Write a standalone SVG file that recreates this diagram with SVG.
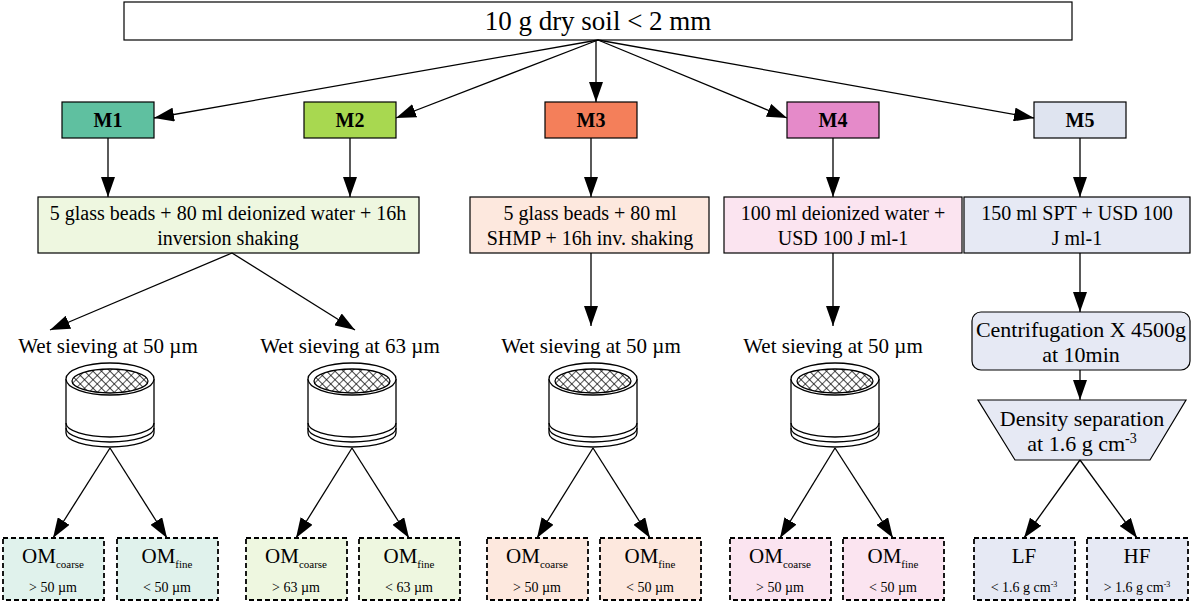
<svg xmlns="http://www.w3.org/2000/svg" width="1200" height="608" viewBox="0 0 1200 608">
<style>
.b{stroke:#000;stroke-width:1.2}
.t{font-family:"Liberation Serif",serif;text-anchor:middle;fill:#000}
.p{font-size:20px}
.L{font-size:21px}
.C{font-size:22px}
.m{font-family:"Liberation Serif",serif;font-size:20px;font-weight:bold;text-anchor:middle}
.d{stroke:#000;stroke-width:1.8;stroke-dasharray:5,3}
.s{font-size:11px}
.sm{font-size:14px}
.sv{fill:#fff;stroke:#000;stroke-width:1.3}
.c{stroke:#000;stroke-width:1.3;fill:none;marker-end:url(#a2)}
</style>
<defs>
<marker id="a2" viewBox="0 0 20 14" refX="20" refY="7" markerWidth="20" markerHeight="14" orient="auto" markerUnits="userSpaceOnUse"><path d="M0,0 L20,7 L0,14 z"/></marker>
<pattern id="mesh" width="6" height="6" patternUnits="userSpaceOnUse" patternTransform="rotate(45)"><rect width="6" height="6" fill="#fff"/><path d="M0,0V6M0,0H6" stroke="#000" stroke-width="1.3"/></pattern>
<g id="sieve">
<path class="sv" d="M-44,0 V54 A44,14 0 0 0 44,54 V0"/>
<path fill="none" stroke="#000" stroke-width="1.3" d="M-44,44 A44,14 0 0 0 44,44 M-44,49 A44,14 0 0 0 44,49"/>
<ellipse class="sv" cx="0" cy="0" rx="44" ry="16"/>
<ellipse cx="0" cy="2" rx="38" ry="12" fill="url(#mesh)" stroke="#000" stroke-width="1.3"/>
</g>
</defs>
<g id="top"><rect x="124" y="2" width="948" height="38" fill="#fff" class="b"/><text class="t" style="font-size:27px" x="598" y="30">10 g dry soil &lt; 2 mm</text></g>
<g id="M1"><rect x="62" y="102" width="92" height="36" fill="#5fc0a0" class="b"/><text class="m" x="108" y="127">M1</text></g>
<g id="M2"><rect x="304" y="102" width="92" height="36" fill="#a8d850" class="b"/><text class="m" x="350" y="127">M2</text></g>
<g id="M3"><rect x="545" y="102" width="92" height="36" fill="#f47f5a" class="b"/><text class="m" x="591" y="127">M3</text></g>
<g id="M4"><rect x="787" y="102" width="92" height="36" fill="#e58ac9" class="b"/><text class="m" x="833" y="127">M4</text></g>
<g id="M5"><rect x="1034" y="102" width="92" height="36" fill="#dfe4f0" class="b"/><text class="m" x="1080" y="127">M5</text></g>
<g id="p1"><rect x="38" y="197" width="381" height="56" fill="#eef7e0" class="b"/><text class="t p" x="228" y="220">5 glass beads + 80 ml deionized water + 16h</text><text class="t p" x="228" y="245">inversion shaking</text></g>
<g id="p3"><rect x="470" y="197" width="239" height="56" fill="#fde8de" class="b"/><text class="t p" x="590" y="220">5 glass beads + 80 ml</text><text class="t p" x="590" y="245">SHMP + 16h inv. shaking</text></g>
<g id="p4"><rect x="724" y="197" width="238" height="56" fill="#fbe4f0" class="b"/><text class="t p" x="843" y="220">100 ml deionized water +</text><text class="t p" x="843" y="245">USD 100 J ml-1</text></g>
<g id="p5"><rect x="964" y="197" width="226" height="56" fill="#e6e9f4" class="b"/><text class="t p" x="1077" y="220">150 ml SPT + USD 100</text><text class="t p" x="1077" y="245">J ml-1</text></g>
<g id="cent"><rect x="972" y="312" width="218" height="58" rx="9" fill="#e6e9f4" class="b"/><text class="t C" x="1081" y="337">Centrifugation X 4500g</text><text class="t C" x="1081" y="362">at 10min</text></g>
<g id="dens"><path d="M978,400 H1186 L1150,460 H1015 Z" fill="#e6e9f4" class="b"/><text class="t C" x="1082" y="426">Density separation</text><text class="t C" x="1082" y="451">at 1.6 g cm<tspan class="sm" dy="-8">-3</tspan></text></g>
<g id="sieves">
<text class="t L" x="108" y="353">Wet sieving at 50 µm</text><text class="t L" x="350" y="353">Wet sieving at 63 µm</text><text class="t L" x="591" y="353">Wet sieving at 50 µm</text><text class="t L" x="833" y="353">Wet sieving at 50 µm</text>
<use href="#sieve" x="110" y="379"/><use href="#sieve" x="352" y="379"/><use href="#sieve" x="593" y="379"/><use href="#sieve" x="835" y="379"/>
</g>
<g id="leaves">
<g fill="#e0f2ec"><rect x="3" y="538" width="101" height="62" class="d"/><rect x="117" y="538" width="101" height="62" class="d"/></g>
<g fill="#eef7e0"><rect x="246" y="538" width="101" height="62" class="d"/><rect x="359" y="538" width="101" height="62" class="d"/></g>
<g fill="#fde8de"><rect x="487" y="538" width="101" height="62" class="d"/><rect x="600" y="538" width="101" height="62" class="d"/></g>
<g fill="#fbe4f0"><rect x="730" y="538" width="101" height="62" class="d"/><rect x="843" y="538" width="101" height="62" class="d"/></g>
<g fill="#e6e9f4"><rect x="974" y="538" width="101" height="62" class="d"/><rect x="1087" y="538" width="101" height="62" class="d"/></g>
<g class="t L">
<text x="53" y="563">OM<tspan class="s" dy="5">coarse</tspan></text><text x="167" y="563">OM<tspan class="s" dy="5">fine</tspan></text>
<text x="296" y="563">OM<tspan class="s" dy="5">coarse</tspan></text><text x="409" y="563">OM<tspan class="s" dy="5">fine</tspan></text>
<text x="537" y="563">OM<tspan class="s" dy="5">coarse</tspan></text><text x="650" y="563">OM<tspan class="s" dy="5">fine</tspan></text>
<text x="780" y="563">OM<tspan class="s" dy="5">coarse</tspan></text><text x="893" y="563">OM<tspan class="s" dy="5">fine</tspan></text>
<text x="1024" y="563">LF</text><text x="1137" y="563">HF</text>
</g>
<g class="t sm">
<text x="53" y="592">&gt; 50 µm</text><text x="167" y="592">&lt; 50 µm</text>
<text x="296" y="592">&gt; 63 µm</text><text x="409" y="592">&lt; 63 µm</text>
<text x="537" y="592">&gt; 50 µm</text><text x="650" y="592">&lt; 50 µm</text>
<text x="780" y="592">&gt; 50 µm</text><text x="893" y="592">&lt; 50 µm</text>
<text x="1024" y="592">&lt; 1.6 g cm<tspan font-size="8" dy="-5">-3</tspan></text><text x="1137" y="592">&gt; 1.6 g cm<tspan font-size="8" dy="-5">-3</tspan></text>
</g>
</g>
<g id="connectors">
<path class="c" d="M598,40 L154,118"/><path class="c" d="M598,40 L396,118"/><path class="c" d="M596,40 L596,102"/><path class="c" d="M598,40 L787,118"/><path class="c" d="M598,40 L1034,118"/>
<path class="c" d="M108,138V197"/><path class="c" d="M350,138V197"/><path class="c" d="M591,138V197"/><path class="c" d="M833,138V197"/><path class="c" d="M1080,138V197"/>
<path class="c" d="M232,253L50,330"/><path class="c" d="M232,253L355,330"/>
<path class="c" d="M591,253V326"/><path class="c" d="M833,253V326"/>
<path class="c" d="M1080,253V312"/><path class="c" d="M1080,370V400"/>
<path class="c" d="M110,448L53,538"/><path class="c" d="M110,448L167,538"/>
<path class="c" d="M352,448L296,538"/><path class="c" d="M352,448L409,538"/>
<path class="c" d="M593,448L537,538"/><path class="c" d="M593,448L650,538"/>
<path class="c" d="M835,448L780,538"/><path class="c" d="M835,448L893,538"/>
<path class="c" d="M1080,460L1024,538"/><path class="c" d="M1080,460L1137,538"/>
</g>
</svg>
